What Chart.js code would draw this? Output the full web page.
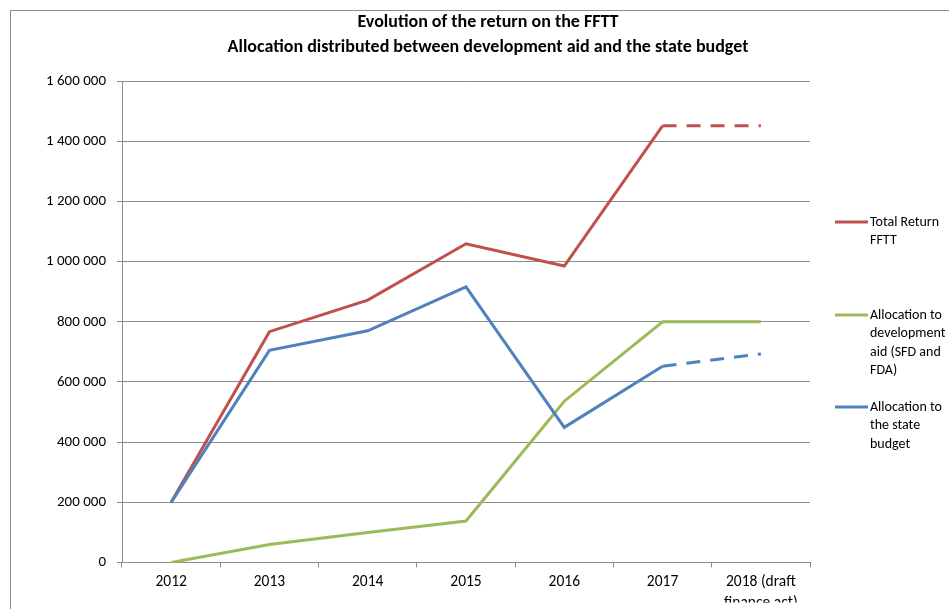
<!DOCTYPE html>
<html><head><meta charset="utf-8">
<script src="https://cdn.jsdelivr.net/npm/chart.js@4"></script>
<style>
html,body{margin:0;padding:0;background:#fff;overflow:hidden;width:949px;height:609px;}
#wrap{position:absolute;left:10px;top:10px;width:953px;height:599px;border-left:1px solid #8c8c8c;border-top:1px solid #8c8c8c;}
canvas{display:block;}
</style></head>
<body>
<div id="wrap"><canvas id="c" width="953" height="599"></canvas></div>
<script>
const categories = ['2012','2013','2014','2015','2016','2017',['2018 (draft','finance act)']];
const totalReturn = [200000, 767000, 872000, 1059000, 985000, 1451000, 1451000];
const devAid = [0, 60000, 100000, 138000, 536000, 800000, 800000];
const stateBudget = [200000, 705000, 770000, 916000, 449000, 652000, 693000];
const yTicks = [0, 200000, 400000, 600000, 800000, 1000000, 1200000, 1400000, 1600000];
const titleLines = ['Evolution of the return on the FFTT', 'Allocation distributed between development aid and the state budget'];
const legendLabels = [['Total Return','FFTT'], ['Allocation to','development','aid (SFD and','FDA)'], ['Allocation to','the state','budget']];
const colors = ['#C0504D', '#9BBB59', '#4F81BD'];

const FONT = 'Carlito, Lato, sans-serif';
const fmt = v => String(v).replace(/\B(?=(\d{3})+(?!\d))/g, ' ');
const dashLast = ctx => ctx.p0DataIndex === 5 ? [14, 10] : undefined;

const deco = {
  id: 'deco',
  afterDraw(chart) {
    const c = chart.ctx;
    c.save();
    c.fillStyle = '#000';
    c.textAlign = 'center';
    c.textBaseline = 'middle';
    c.font = 'bold 18px ' + FONT;
    c.fillText(titleLines[0], 477, 11);
    c.fillText(titleLines[1], 477, 36);
    const firstY = [211, 304, 396];
    c.font = '14px ' + FONT;
    c.textAlign = 'left';
    legendLabels.forEach((lines, i) => {
      const y0 = firstY[i];
      c.strokeStyle = colors[i];
      c.lineWidth = 3;
      c.beginPath(); c.moveTo(824, y0); c.lineTo(857, y0); c.stroke();
      lines.forEach((t, j) => c.fillText(t, 859, y0 + j * 18.5));
    });
    c.restore();
  }
};

new Chart(document.getElementById('c'), {
  type: 'line',
  data: {
    labels: categories,
    datasets: [
      {label: 'Total Return FFTT', data: totalReturn, borderColor: colors[0], order: 2, segment: {borderDash: dashLast}},
      {label: 'Allocation to development aid (SFD and FDA)', data: devAid, borderColor: colors[1], order: 1},
      {label: 'Allocation to the state budget', data: stateBudget, borderColor: colors[2], order: 0, segment: {borderDash: dashLast}}
    ]
  },
  options: {
    responsive: false,
    animation: false,
    elements: {line: {borderWidth: 3, tension: 0, fill: false, borderCapStyle: 'butt', borderJoinStyle: 'miter'}, point: {radius: 0, hoverRadius: 0}},
    layout: {padding: {left: 11, right: 154, top: 70, bottom: 7.5}},
    plugins: {legend: {display: false}, title: {display: false}, tooltip: {enabled: false}},
    scales: {
      x: {
        offset: true,
        grid: {offset: true, drawOnChartArea: false, drawTicks: true, tickLength: 5, color: '#8c8c8c'},
        border: {color: '#8c8c8c', width: 1},
        ticks: {color: '#000', font: {family: FONT, size: 15.5, lineHeight: 1.3}, padding: 5, maxRotation: 0, autoSkip: false},
        afterFit: s => { s.height = 40; }
      },
      y: {
        min: 0, max: 1600000,
        afterBuildTicks: s => { s.ticks = yTicks.map(v => ({value: v})); },
        grid: {color: '#8c8c8c', tickLength: 5, lineWidth: 1},
        border: {color: '#8c8c8c', width: 1},
        ticks: {color: '#000', font: {family: FONT, size: 15}, padding: 11, callback: v => fmt(v)},
        afterFit: s => { s.width = 100; }
      }
    }
  },
  plugins: [deco]
});
</script>
</body></html>
